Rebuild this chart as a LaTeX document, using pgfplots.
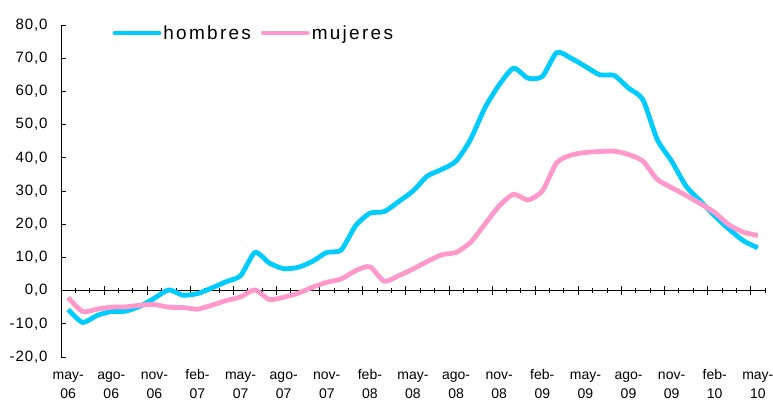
\documentclass[border=0pt]{standalone}
\usepackage{pgfplots}
\pgfplotsset{compat=1.18}
\usepackage{pgfplotstable}
\usepackage{fontspec}
\setmainfont{Liberation Sans}
\definecolor{hcol}{HTML}{00CCFF}
\definecolor{mcol}{HTML}{FF99CC}
\pgfplotstableread{
x h m
0 -5.7 -2.1
1 -9.6 -6.3
2 -7.5 -5.6
3 -6.3 -5.0
4 -6.2 -4.9
5 -4.7 -4.4
6 -2.3 -4.2
7 0.2 -5.0
8 -1.4 -5.1
9 -0.9 -5.6
10 0.8 -4.4
11 2.7 -3.0
12 4.5 -1.9
13 11.5 0.2
14 8.3 -2.7
15 6.6 -2.0
16 7.0 -0.8
17 8.8 1.0
18 11.5 2.5
19 12.2 3.5
20 19.5 6.0
21 23.3 7.2
22 23.8 2.8
23 26.8 4.5
24 30.0 6.5
25 34.5 8.8
26 36.5 10.8
27 39.0 11.5
28 45.5 14.5
29 55.0 20.0
30 62.0 25.5
31 67.0 29.0
32 64.0 27.3
33 64.5 30.0
34 71.7 38.5
35 70.0 40.8
36 67.5 41.6
37 65.0 41.9
38 64.8 42.0
39 61.0 41.0
40 57.5 39.0
41 45.5 33.5
42 39.0 31.0
43 31.5 28.7
44 27.0 26.2
45 22.5 23.5
46 18.5 19.8
47 15.0 17.6
48 12.9 16.6
}\datatable
\begin{document}
\begin{tikzpicture}
\useasboundingbox (-61pt,-44pt) rectangle (712pt,357pt);
\begin{axis}[
  scale only axis,
  width=704pt, height=332pt,
  xmin=-0.5, xmax=48.5,
  ymin=-20, ymax=80,
  axis x line*=middle,
  axis y line*=left,
  axis line style={black, line width=0.8pt},
  ytick=\empty,
  extra y ticks={-20,-10,...,80},
  extra y tick style={major tick length=5pt},
  ytick align=inside,
  xtick align=center,
  major tick length=9pt,
  minor tick length=5pt,
  tick style={draw=black, line width=0.8pt},
  xtick={2.5,5.5,...,47.5},
  xticklabels={},
  minor xtick={0.5,1.5,...,48.5},
  extra x ticks={0,3,...,48},
  extra x tick labels={{\strut may-\\\strut 06},{\strut ago-\\\strut 06},{\strut nov-\\\strut 06},{\strut feb-\\\strut 07},{\strut may-\\\strut 07},{\strut ago-\\\strut 07},{\strut nov-\\\strut 07},{\strut feb-\\\strut 08},{\strut may-\\\strut 08},{\strut ago-\\\strut 08},{\strut nov-\\\strut 08},{\strut feb-\\\strut 09},{\strut may-\\\strut 09},{\strut ago-\\\strut 09},{\strut nov-\\\strut 09},{\strut feb-\\\strut 10},{\strut may-\\\strut 10}},
  extra x tick style={major tick length=0pt},
  xticklabel style={font=\fontsize{14}{19}\selectfont, align=center, inner sep=0pt, anchor=north, yshift=-75pt},
  yticklabel style={font=\fontsize{15}{18}\selectfont\addfontfeature{LetterSpace=6}, xshift=-10pt},
  /pgf/number format/.cd, fixed, fixed zerofill, precision=1, use comma, assume math mode=true,
  /pgfplots/.cd,
  legend columns=2,
  legend style={draw=none, fill=none, at={(rel axis cs:0.073,0.976)}, anchor=west,
    font=\fontsize{19}{22}\selectfont\addfontfeature{LetterSpace=12}, inner sep=0pt,
    /tikz/every even column/.append style={column sep=8pt}},
  legend image code/.code={\draw[#1, line cap=round] (0pt,0pt) -- (44pt,0pt);},
  every axis plot/.append style={line width=4.8pt, line join=round},
]
\addplot[hcol, smooth, tension=0.4] table[x=x, y=h] {\datatable};
\addlegendentry{hombres}
\addplot[mcol, smooth, tension=0.4] table[x=x, y=m] {\datatable};
\addlegendentry{mujeres}
\end{axis}
\end{tikzpicture}
\end{document}
